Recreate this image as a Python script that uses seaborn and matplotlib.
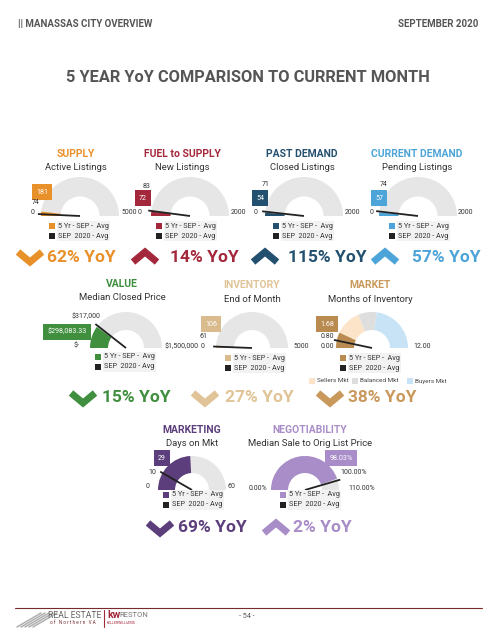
import numpy as np
import matplotlib
matplotlib.use("Agg")
import matplotlib.pyplot as plt
import seaborn as sns

sns.set_theme(style="white")
plt.rcParams["font.family"] = ["Roboto", "DejaVu Sans"]

W, H = 495, 640

# ---- data ----
titles = ["SUPPLY", "FUEL to SUPPLY", "PAST DEMAND", "CURRENT DEMAND",
          "VALUE", "INVENTORY", "MARKET", "MARKETING", "NEGOTIABILITY"]
subtitles = ["Active Listings", "New Listings", "Closed Listings", "Pending Listings",
             "Median Closed Price", "End of Month", "Months of Inventory",
             "Days on Mkt", "Median Sale to Orig List Price"]
avg_5yr = [181, 72, 54, 57, 298083.33, 106, 1.68, 29, 98.03]
sep_2020 = [74, 83, 71, 74, 317000, 61, 0.80, 10, 100.00]
gauge_max = [5000, 2000, 2000, 2000, 1500000, 5000, 12, 60, 110]
avg_labels = ["181", "72", "54", "57", "$298,083.33", "106", "1.68", "29", "98.03%"]
cur_labels = ["74", "83", "71", "74", "$317,000", "61", "0.80", "10", "100.00%"]
min_labels = ["0", "0", "0", "0", "$-", "0", "0.00", "0", "0.00%"]
max_labels = ["5000", "2000", "2000", "2000", "$1,500,000", "5000", "12.00", "60", "110.00%"]
yoy = [62, 14, 115, 57, 15, 27, 38, 69, 2]
yoy_up = [False, True, True, True, False, False, False, False, True]

market_zones = ["Sellers Mkt", "Balanced Mkt", "Buyers Mkt"]
market_zone_size = [4.5, 2.0, 5.5]

# ---- styles / layout ----
colors = ["#E8902A", "#A3283B", "#24506F", "#4CA4D8", "#3F8F3E",
          "#D9BB8E", "#BA8B50", "#5C3E7C", "#A98DC8"]
title_colors = ["#E8902A", "#A3283B", "#24506F", "#4CA4D8", "#3F8F3E",
                "#E0C497", "#C9995C", "#5C3E7C", "#A98DC8"]
zone_colors = ["#FCE4C9", "#DEDEDE", "#C8E3F5"]
TRACK = "#E6E6E6"
NEEDLE = "#222222"
GREY_TXT = "#555555"

cx = [80, 190, 304, 418, 126, 252, 372, 192, 305]
by = [216, 216, 216, 216, 348, 348, 348, 490, 490]
rad = [39, 39, 39, 39, 36, 36, 36, 34, 34]
title_x = [76, 182, 302, 417, 122, 252, 370, 192, 310]
title_y = [154, 154, 154, 154, 284, 285, 285, 430, 430]
avg_pos = [(42, 192), (143, 198), (260, 198), (379, 198), (67, 332),
           (211, 324), (327, 324), (162, 458), (341, 458)]
cur_pos = [(36, 203), (147, 186), (266, 185), (384, 185), (86, 317),
           (203, 337), (327, 337), (152, 472), (354, 472)]
min_pos = [(33, 213), (140, 213), (256, 213), (372, 213), (77, 346),
           (203, 346), (327, 346), (148, 486), (258, 489)]
max_pos = [(121, 213), (231, 213), (345, 213), (458, 213), (165, 347),
           (293, 347), (413, 347), (228, 487), (348, 489)]
leg_x = [52, 159, 276, 392, 98, 228, 343, 166, 283]
leg_y = [226, 226, 226, 226, 357, 358, 358, 495, 495]
chev_x = [30, 145, 265, 385, 83, 205, 330, 160, 276]
yoy_x = [47, 170, 288, 412, 102, 225, 348, 178, 293]
yoy_y = [257, 257, 257, 257, 398, 398, 398, 528, 528]

fig = plt.figure(figsize=(W / 100, H / 100), dpi=100)
fig.patch.set_facecolor("white")


def gauge_axes(i):
    r = rad[i] * 1.15
    return fig.add_axes([(cx[i] - r) / W, (H - by[i] - r) / H, 2 * r / W, 2 * r / H])


for i in range(len(titles)):
    gx = gauge_axes(i)
    m = gauge_max[i]
    if titles[i] == "MARKET":
        gx.pie(market_zone_size + [m], colors=zone_colors + ["none"], startangle=180,
               counterclock=False, radius=1, wedgeprops=dict(width=0.5, edgecolor="none"))
    else:
        gx.pie([m, m], colors=[TRACK, "none"], startangle=180, counterclock=False,
               radius=1, wedgeprops=dict(width=0.5, edgecolor="none"))
    gx.pie([avg_5yr[i], m - avg_5yr[i], m], colors=[colors[i], "none", "none"],
           startangle=180, counterclock=False, radius=1,
           wedgeprops=dict(width=0.5, edgecolor="none"))
    th = np.pi * (1 - sep_2020[i] / m)
    gx.plot([0, 1.08 * np.cos(th)], [0, 1.08 * np.sin(th)], color=NEEDLE, lw=1.3,
            solid_capstyle="butt")
    gx.set_xlim(-1.15, 1.15)
    gx.set_ylim(-1.15, 1.15)
    gx.set_aspect("auto")
    gx.axis("off")

ax = fig.add_axes([0, 0, 1, 1], zorder=5)
ax.set_xlim(0, W)
ax.set_ylim(H, 0)
ax.axis("off")

# header
ax.text(18, 24, "|| MANASSAS CITY OVERVIEW", fontsize=7, fontweight="bold",
        color=GREY_TXT, va="center", ha="left")
ax.text(478, 24, "SEPTEMBER 2020", fontsize=7, fontweight="bold",
        color=GREY_TXT, va="center", ha="right")
ax.text(248, 78, "5 YEAR YoY COMPARISON TO CURRENT MONTH", fontsize=11.8,
        fontweight="bold", color=GREY_TXT, va="center", ha="center")

lab = dict(fontsize=5, color="#333333", va="center")
for i in range(len(titles)):
    ax.text(title_x[i], title_y[i], titles[i], fontsize=7.5, fontweight="bold",
            color=title_colors[i], ha="center", va="center")
    ax.text(title_x[i], title_y[i] + 14, subtitles[i], fontsize=6.8,
            color="#333333", ha="center", va="center")
    ax.text(*avg_pos[i], avg_labels[i], fontsize=5.1, color="white", ha="center",
            va="center", bbox=dict(boxstyle="square,pad=0.6", fc=colors[i], ec="none"))
    ax.text(*cur_pos[i], cur_labels[i], ha="center", **lab)
    ax.text(*min_pos[i], min_labels[i], ha="center", **lab)
    ax.text(*max_pos[i], max_labels[i], ha="left", **lab)
    # legend
    ax.scatter([leg_x[i], leg_x[i]], [leg_y[i], leg_y[i] + 10], marker="s", s=18,
               c=[colors[i], "#222222"], linewidths=0)
    ax.text(leg_x[i] + 6, leg_y[i], "5 Yr - SEP -  Avg", fontsize=5.2, color="#333333",
            va="center", bbox=dict(boxstyle="square,pad=0.2", fc="#F2F2F2", ec="none"))
    ax.text(leg_x[i] + 6, leg_y[i] + 10, "SEP  2020 - Avg", fontsize=5.2, color="#333333",
            va="center", bbox=dict(boxstyle="square,pad=0.2", fc="#F2F2F2", ec="none"))
    # yoy chevron + text
    sgn = -1 if yoy_up[i] else 1
    xc, yc = chev_x[i], yoy_y[i]
    ax.plot([xc - 12, xc, xc + 12], [yc - 5 * sgn, yc + 5 * sgn, yc - 5 * sgn],
            color=title_colors[i], lw=5, solid_joinstyle="miter", solid_capstyle="butt")
    ax.text(yoy_x[i], yc, f"{yoy[i]}% YoY", fontsize=12.5, fontweight="bold",
            color=title_colors[i], ha="left", va="center")

# market zone legend
zone_x = [312, 355, 410]
for zx, zn, zc in zip(zone_x, market_zones, zone_colors):
    ax.scatter([zx], [381], marker="s", s=16, c=[zc], linewidths=0)
    ax.text(zx + 5, 381, zn, fontsize=4.6, color="#444444", va="center")

# footer
ax.plot([15, 482], [608, 608], color="#7A2A2A", lw=0.8)
for k in range(5):
    ax.plot([17 + 4 * k, 27 + 4 * k + 14], [627, 613], color="#B0B0B0", lw=1.1)
ax.text(48, 615, "REAL ESTATE", fontsize=6.2, color="#666666", va="center")
ax.text(50, 623, "o f   N o r t h e r n   V A", fontsize=3.3, color="#7A2A2A", va="center")
ax.plot([104, 104], [610, 627], color="#A3283B", lw=0.8)
ax.text(107, 615, "kw", fontsize=7.5, fontweight="bold", color="#A3283B", va="center")
ax.text(119, 615, "RESTON", fontsize=5.5, color="#777777", va="center")
ax.text(107, 623, "KELLERWILLIAMS", fontsize=2.6, color="#A3283B", va="center")
ax.text(247, 617, "- 54 -", fontsize=5.2, color="#555555", ha="center", va="center")

fig.savefig("out.png", dpi=100, facecolor="white")
